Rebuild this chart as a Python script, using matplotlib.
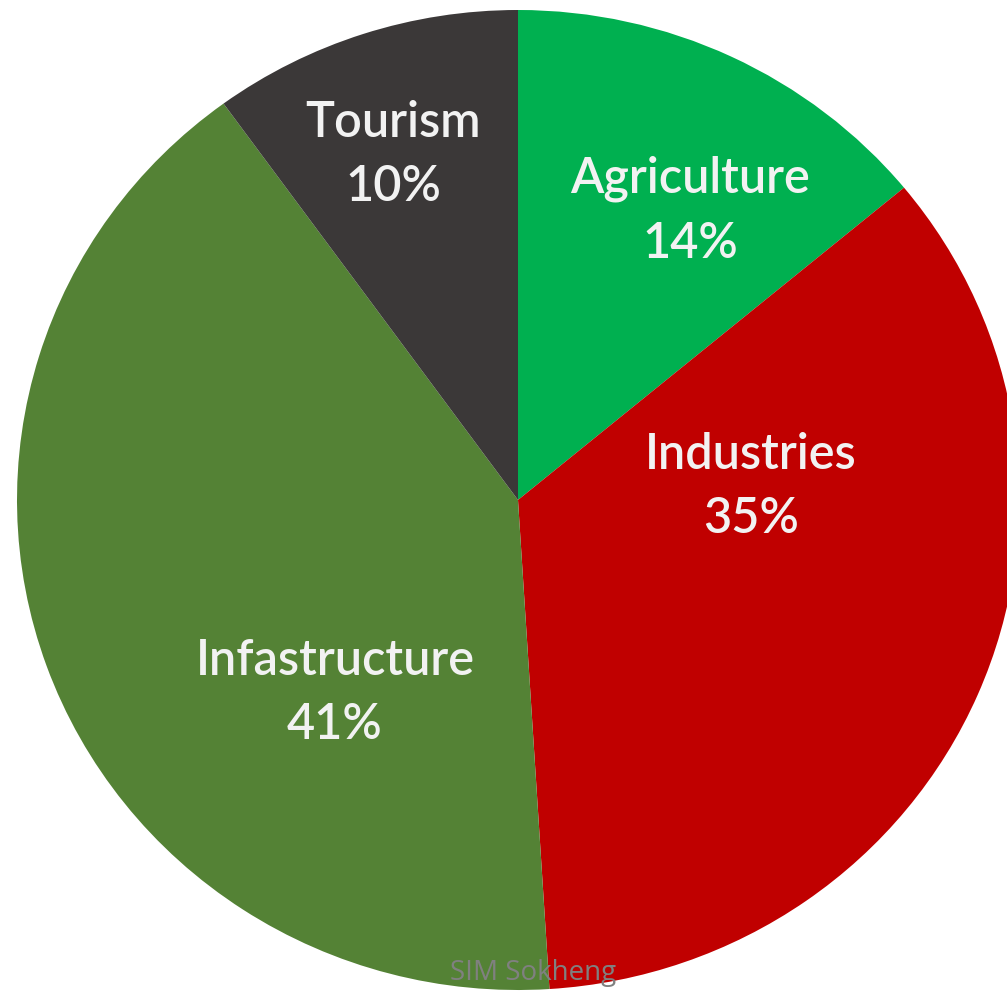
import matplotlib.pyplot as plt

# Data
sectors = ["Agriculture", "Industries", "Infastructure", "Tourism"]
shares = [14, 35, 41, 10]
colors = ["#00B050", "#C00000", "#548235", "#3B3838"]

# label centres in pixels (x, y of the two-line block)
label_px = [(690, 211), (751, 487), (335, 693), (393, 155)]

W, H = 1007, 994
CX, CY = 518, 500
RX, RY = 501, 490


def to_data(px, py):
    return (px - CX) / RX, (CY - py) / RY


fig = plt.figure(figsize=(W / 100, H / 100), dpi=100)
ax = fig.add_axes([0, 0, 1, 1])

ax.pie(shares, colors=colors, startangle=90, counterclock=False,
       radius=1, center=(0, 0), wedgeprops=dict(linewidth=0))

ax.set_aspect("auto")
ax.set_xlim(-CX / RX, (W - CX) / RX)
ax.set_ylim((CY - H) / RY, CY / RY)
ax.axis("off")

for name, val, (px, py) in zip(sectors, shares, label_px):
    x, y = to_data(px, py)
    ax.text(x, y, f"{name}\n{val}%", ha="center", va="center",
            color="#F2F2F2", fontsize=35, fontfamily="Lato",
            fontweight="semibold", linespacing=1.5)

fig.text(533 / W, 1 - 973 / H, "SIM Sokheng", ha="center", va="center",
         color="#808080", fontsize=20, fontfamily="Open Sans")

fig.savefig("out.png", dpi=100, facecolor="white")
